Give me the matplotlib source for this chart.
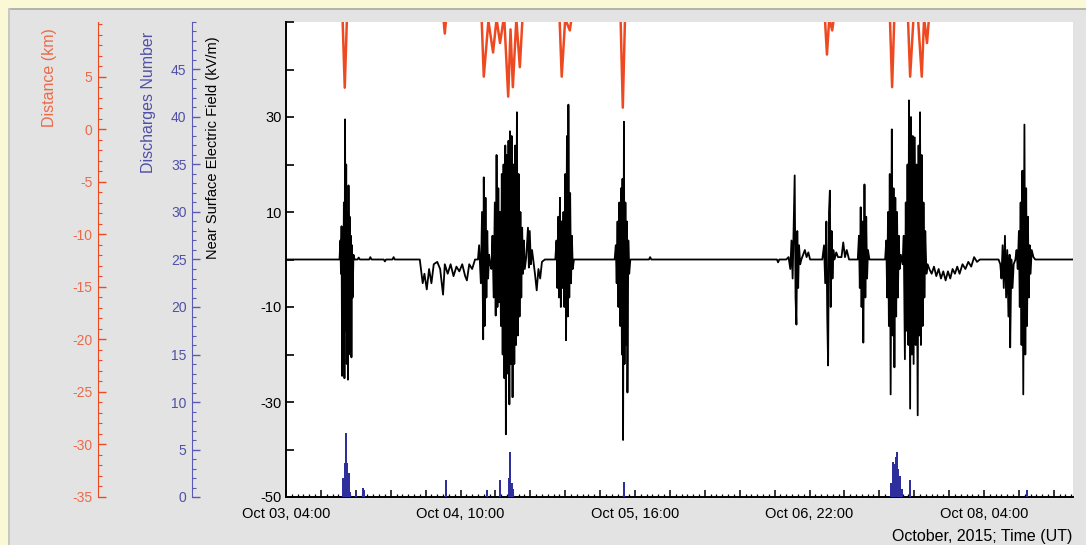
import numpy as np
import matplotlib.pyplot as plt
from matplotlib.patches import Rectangle
from matplotlib.ticker import MultipleLocator, FixedLocator, FuncFormatter

plt.rcParams['font.family'] = ['Liberation Sans', 'DejaVu Sans']
plt.rcParams['axes.unicode_minus'] = False

# time axis: hours since Oct 03, 04:00 UT
label_hours = [0, 30, 60, 90, 120]
label_text = ["Oct 03, 04:00", "Oct 04, 10:00", "Oct 05, 16:00",
              "Oct 06, 22:00", "Oct 08, 04:00"]

# near surface electric field (kV/m)
field_t = [0, 9.0,
           9.2, 9.35, 9.45, 9.55, 9.65, 9.75, 9.85, 9.95, 10.05, 10.15, 10.25, 10.35,
           10.45, 10.55, 10.65, 10.75, 10.85, 10.95, 11.05, 11.15, 11.25, 11.35, 11.45,
           11.6, 11.8,
           12.3, 12.5, 12.7, 14.3, 14.5, 14.7, 16.8, 17.0, 17.2, 18.3, 18.5, 18.7, 23.0,
           23.2, 23.5, 23.8, 24.2, 24.6, 25.0, 25.4, 26.0, 26.5, 27.0, 27.3, 27.8, 28.3,
           28.8, 29.3, 29.8, 30.3, 30.8, 31.1, 31.5, 32.0, 32.5,
           33.0, 33.2, 33.5, 33.7, 33.9, 34.0, 34.15, 34.3, 34.45, 34.6, 34.75, 34.9, 35.1,
           35.3, 35.5, 35.7, 35.9, 36.05, 36.2, 36.35, 36.5, 36.65, 36.8,
           36.95, 37.1, 37.25, 37.4, 37.55, 37.7, 37.8, 37.95, 38.1, 38.25, 38.4, 38.5,
           38.65, 38.8, 38.95, 39.1, 39.25, 39.4, 39.55, 39.7, 39.85, 40.0, 40.15, 40.3,
           40.45, 40.6, 40.75, 40.9, 41.05,
           41.3, 41.6, 41.75, 41.9, 42.1, 42.3, 42.5, 42.8, 43.1, 43.4, 43.7, 44.0, 44.5, 46.0,
           46.3, 46.5, 46.65, 46.8, 46.95, 47.1, 47.25, 47.4, 47.55, 47.7, 47.85, 48.0,
           48.15, 48.3, 48.45, 48.55, 48.7, 48.85, 49.0, 49.15, 49.3, 49.5,
           56.5,
           56.7, 56.85, 57.0, 57.15, 57.3, 57.45, 57.6, 57.75, 57.85, 57.95, 58.1, 58.2,
           58.35, 58.5, 58.6, 58.7, 58.85, 59.0, 59.2,
           62.4, 62.6, 62.8, 84.4, 84.6, 84.8, 86.0,
           86.4, 86.7, 86.9, 87.1, 87.3, 87.45, 87.6, 87.75, 87.9, 88.05, 88.2, 88.4, 88.6,
           88.9, 89.2, 89.5, 89.8, 90.1, 92.2,
           92.5, 92.7, 92.9, 93.05, 93.2, 93.35, 93.5, 93.65, 93.8, 93.95, 94.1, 94.3,
           94.6, 94.9, 95.5, 95.8, 96.1, 96.4, 96.8, 98.0,
           98.3, 98.5, 98.65, 98.8, 98.95, 99.1, 99.25, 99.45, 99.6, 99.75, 99.9, 100.05,
           100.3, 103.0,
           103.2, 103.35, 103.5, 103.65, 103.8, 103.95, 104.15, 104.3, 104.45, 104.6,
           104.75, 104.9, 105.05, 105.2, 105.35, 105.5, 105.7, 106.0,
           106.2, 106.4, 106.55, 106.7, 106.85, 107.0, 107.1, 107.3, 107.45, 107.6, 107.75,
           107.9, 108.1, 108.25, 108.4, 108.6, 108.75, 108.9, 109.0, 109.15, 109.3, 109.45,
           109.6, 109.75, 109.9, 110.1, 110.3,
           110.6, 111.0, 111.4, 111.8, 112.2, 112.6, 113.0, 113.4, 113.8, 114.2, 114.6,
           115.0, 115.4, 115.8, 116.3, 116.8, 117.3, 117.8, 118.3, 118.8, 119.3, 122.5,
           122.8, 123.0, 123.2, 123.4, 123.6, 123.8, 124.0, 124.2, 124.4, 124.5, 124.7,
           124.9, 125.1, 125.4,
           125.6, 125.8, 126.0, 126.15, 126.3, 126.45, 126.6, 126.75, 126.95, 127.1, 127.25,
           127.4, 127.55, 127.7, 127.85, 128.0, 128.2, 128.5, 128.8, 135.3]
field_v = [0, 0,
           0, 4, -3, 7, -24.5, 6, -10, 12, -25, 29.5, -15, 20,
           -22, 10, -25.3, 15.6, -12, 9, -20, 5, -20.6, 3, -8,
           1, 0,
           0, 0.4, 0, 0, 0.5, 0, 0, -0.4, 0, 0, 0.5, 0, 0,
           -2, -5, -3, -6.3, -2, -5, -1, -0.5, -2, -7.4, -1, -3, -1,
           -3.5, -1.5, -2.5, -1, -3.5, -4.4, -1, -2, 0,
           0, 3, -5, 10, -16.8, 17.3, -14, 13, -8, 6, -4, 1, -1,
           -2, 5, -8, 12, -11.8, 22, -10, 15, -9, 10,
           -14, 18, -20, 20, -25, 24, -36.8, 22, -24, 25, -30.5, 27,
           -22, 26, -29, 20, -22, 24, -18, 31, -16, 18, -12, 10,
           -8, 6.7, -3, 4, -2,
           0.5, 6.7, -1.7, 6, -1, 2, 0, -3, -6.5, -2, -4, -0.5, 0, 0,
           0, 4, -6, 9, -8, 13, -10, 8, -6, 10, -10, 18,
           -17, 26, -12, 32.6, -8, 14, -5, 5, -2, 0,
           0,
           3, -5, 8, -10, 12, -14, 15, -20, 17, -38, 29, -22,
           12, -18, 8, -28, 4, -3, 0,
           0, 0.5, 0, 0, -0.6, 0, 0,
           0.5, -2, 4, -4, 8, 17.7, -8, -13.7, 6, -6, 3, -1, 0,
           1, 2, 0.5, 1.5, 0, 0,
           3, -5, 8, -12, -22.3, 10, 14.5, -10, 6, -4, 2, 0,
           1.5, 0.5, 0.5, 3.6, 0.5, 2, 0, 0,
           0, 5, -6, 11, -10, 8, -17.5, 15.8, -8, 9, -4, 2,
           0, 0,
           4, -8, 10, -14, 18, -28.4, 27.4, -16, 15, -22.7,
           13, -12, 10, -8, 5, -2, 1, -1,
           5, -21, 12, -15, 20, -18, 33.5, -31.4, 30, -20, 26,
           -22, 25.7, -18, 20, -32.8, 24, -16, 31, -18, 22, -14,
           12, -8, 6, -3, -1,
           -2, -3, -1.5, -3.5, -2, -4, -2.5, -4.4, -2.5, -4, -2,
           -3, -1.5, -3, -1, -2, -0.5, -1.5, 0.5, -0.5, 0, 0,
           -1, -4, 3, -6, 5, -8, 2, -12, 1, -18.5, 0,
           -6, -1, 0,
           2, -2, 6, -10, 12, -18, 18.7, -28.4, 28.4, -20, 15,
           -14, 9, -8, 3, -3, 2, 0.5, 0, 0]

# lightning distance (km); values above the axis top are clipped
red_t = [9.7, 10.1, 10.5, np.nan,
         27.0, 27.3, 27.6, np.nan,
         33.6, 34.0, 34.8, 35.6, 36.2, 36.8, 37.5, 38.2, 38.6, 39.0, 39.6, 40.2, 40.7, np.nan,
         47.0, 47.4, 48.0, 48.8, 49.2, np.nan,
         57.5, 57.9, 58.3, np.nan,
         92.6, 93.0, 93.4, 93.9, 94.3, np.nan,
         103.8, 104.2, 104.6, np.nan,
         106.9, 107.3, 107.9, 108.6, 109.3, 109.7, 110.2, 110.6]
red_km = [11, 3.95, 11, np.nan,
          11, 9.1, 11, np.nan,
          11, 5.0, 10.3, 7.3, 10.5, 8.2, 10.8, 3.1, 9.5, 4.0, 10.5, 5.9, 11, np.nan,
          11, 5.0, 10.5, 9.4, 11, np.nan,
          11, 2.05, 11, np.nan,
          11, 7.1, 10.6, 9.4, 11, np.nan,
          11, 4.0, 11, np.nan,
          11, 5.0, 10.8, 11, 5.0, 10.6, 8.2, 11]

# discharges number
blue_t = [9.8, 10.05, 10.3, 10.55, 10.8, 11.1, 12.0, 13.2, 13.5,
          27.5, 34.6, 36.8, 38.3, 38.5, 38.8, 39.0, 58.1,
          104.0, 104.3, 104.6, 104.8, 105.0, 105.3, 105.6, 105.9, 107.3, 127.4]
blue_n = [2, 3.6, 6.7, 3.6, 2.5, 0.5, 0.3, 1.0, 0.7,
          1.8, 0.7, 1.8, 2.0, 4.7, 1.5, 0.8, 1.6,
          1.5, 3.7, 3.5, 4.2, 4.7, 3.0, 2.2, 0.8, 1.8, 0.7]

RED = '#ee4a22'
RED_TXT = '#ec6a48'
BLUE = '#2e2e9c'
BLUE_TXT = '#5050a8'
W, H = 1086, 545

fig = plt.figure(figsize=(W / 100, H / 100), dpi=100, facecolor='#e3e3e3')
# frame of the original screenshot
fig.add_artist(Rectangle((0, 1 - 8 / H), 1, 8 / H, transform=fig.transFigure,
                         color='#fbf8d6', lw=0))
fig.add_artist(Rectangle((0, 0), 8 / W, 1, transform=fig.transFigure,
                         color='#fbf8d6', lw=0))
fig.add_artist(Rectangle((8 / W, 1 - 10 / H), 1, 2 / H, transform=fig.transFigure,
                         color='#b4b4aa', lw=0))
fig.add_artist(Rectangle((8 / W, 0), 1.5 / W, 1 - 8 / H, transform=fig.transFigure,
                         color='#c8c8be', lw=0))

ax = fig.add_axes([286 / W, 48 / H, 787 / W, 475 / H])
ax.set_facecolor('white')
ax.plot(field_t, field_v, color='black', lw=1.3)
ax.set_xlim(0, 135.3)
ax.set_ylim(-50, 50)
for s in ('top', 'right'):
    ax.spines[s].set_visible(False)
for s in ('left', 'bottom'):
    ax.spines[s].set_linewidth(1.4)

ax.set_yticks([-50, -30, -10, 10, 30])
ax.yaxis.set_minor_locator(FixedLocator([-40, -20, 0, 20, 40, 50]))
ax.tick_params(axis='y', which='both', direction='in', length=6, width=1.2,
               labelsize=10.5, pad=3)

ax.xaxis.set_major_locator(MultipleLocator(6))
ax.xaxis.set_minor_locator(MultipleLocator(1))
labels = dict(zip(label_hours, label_text))
ax.xaxis.set_major_formatter(FuncFormatter(lambda v, p: labels.get(int(round(v)), '')))
ax.tick_params(axis='x', which='major', direction='in', length=5, width=1.1,
               labelsize=10.5, pad=7)
ax.tick_params(axis='x', which='minor', direction='in', length=2.5, width=0.9)

ax.text(-73 / 787, 1 - 14 / 475, 'Near Surface Electric Field (kV/m)',
        transform=ax.transAxes, rotation=90, ha='center', va='top', fontsize=10.5)
fig.text(1072 / W, 1 - 537 / H, 'October, 2015; Time (UT)', ha='right', va='center',
         fontsize=11.5)

# discharges number axis
ax_n = ax.twinx()
ax_n.bar(blue_t, blue_n, width=0.3, color=BLUE, lw=0)
ax_n.set_ylim(0, 50)
ax_n.yaxis.set_ticks_position('left')
ax_n.spines['left'].set_visible(True)
ax_n.spines['left'].set_position(('axes', -94 / 787))
ax_n.spines['left'].set_color('#5a5ab4')
for s in ('top', 'right', 'bottom'):
    ax_n.spines[s].set_visible(False)
ax_n.set_yticks(range(0, 50, 5))
ax_n.yaxis.set_minor_locator(MultipleLocator(1))
ax_n.tick_params(axis='y', which='major', direction='in', length=6, width=1,
                 color='#5a5ab4', labelcolor=BLUE_TXT, labelsize=10, pad=4)
ax_n.tick_params(axis='y', which='minor', direction='in', length=3, width=0.8,
                 color='#5a5ab4')
ax_n.text(-138 / 787, 1 - 10 / 475, 'Discharges Number', transform=ax_n.transAxes,
          rotation=90, ha='center', va='top', fontsize=11.5, color=BLUE_TXT)

# distance axis
ax_d = ax.twinx()
ax_d.plot(red_t, red_km, color=RED, lw=1.8)
ax_d.set_ylim(-35, 10.2)
ax_d.yaxis.set_ticks_position('left')
ax_d.spines['left'].set_visible(True)
ax_d.spines['left'].set_position(('axes', -188 / 787))
ax_d.spines['left'].set_color(RED)
for s in ('top', 'right', 'bottom'):
    ax_d.spines[s].set_visible(False)
ax_d.set_yticks(range(-35, 10, 5))
ax_d.yaxis.set_minor_locator(MultipleLocator(1))
ax_d.tick_params(axis='y', which='major', direction='in', length=6, width=1,
                 color=RED, labelcolor=RED_TXT, labelsize=10, pad=4)
ax_d.tick_params(axis='y', which='minor', direction='in', length=3, width=0.8,
                 color=RED)
ax_d.text(-236 / 787, 1 - 6 / 475, 'Distance (km)', transform=ax_d.transAxes,
          rotation=90, ha='center', va='top', fontsize=11.5, color=RED_TXT)

fig.savefig('out.png', dpi=100, facecolor=fig.get_facecolor())
